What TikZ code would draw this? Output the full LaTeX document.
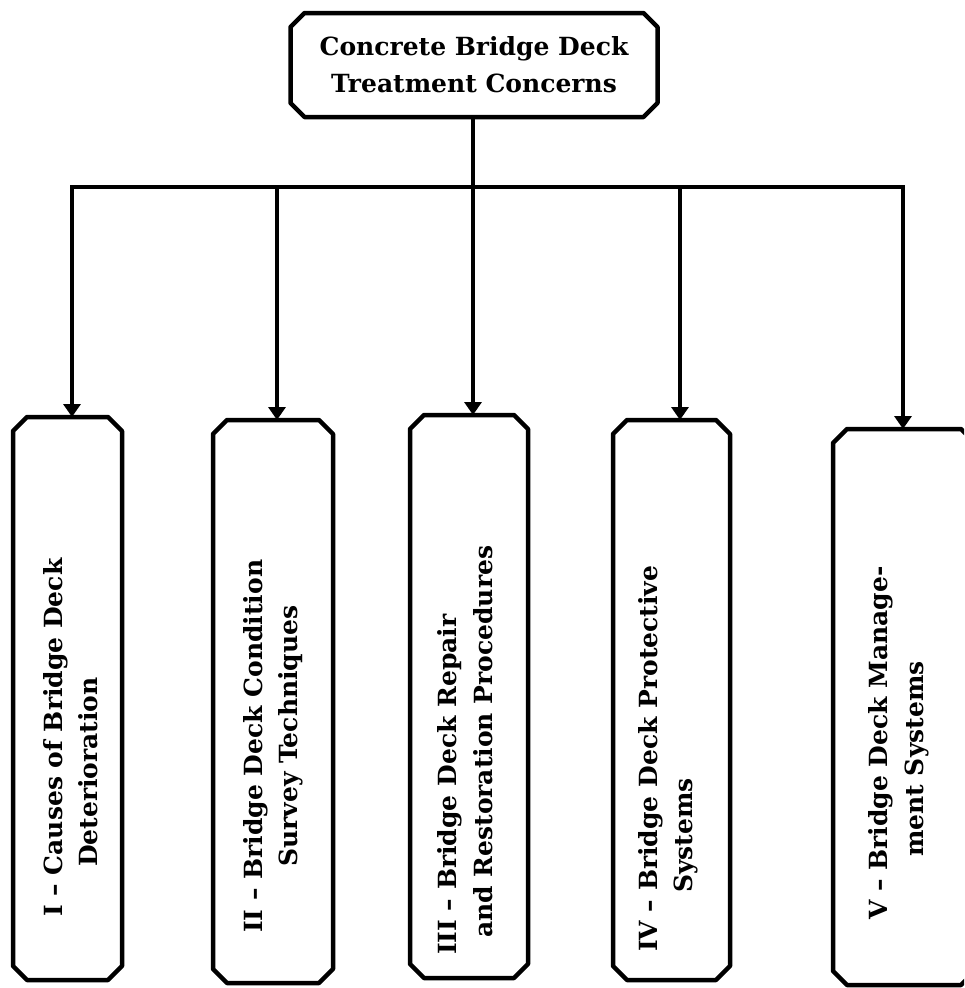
\documentclass[tikz,border=0pt]{standalone}
\usepackage{fontspec}
\setmainfont{DejaVu Serif}
\usetikzlibrary{arrows.meta}
% outline of a node with its four corners cut off
\newcommand\chambox[2][14pt]{%
  \draw[edge] ([xshift=#1]#2.north west) -- ([xshift=-#1]#2.north east)
    -- ([yshift=-#1]#2.north east) -- ([yshift=#1]#2.south east)
    -- ([xshift=-#1]#2.south east) -- ([xshift=#1]#2.south west)
    -- ([yshift=#1]#2.south west) -- ([yshift=-#1]#2.north west) -- cycle;}
\begin{document}
\begin{tikzpicture}[x=1pt,y=-1pt,
  box/.style={rectangle, inner sep=0pt, outer sep=0pt},
  edge/.style={line width=4.5pt, line join=round},
  conn/.style={line width=4.5pt},
  arr/.style={line width=4.5pt, -{Triangle[length=13pt,width=17pt]}},
  lbl/.style={rotate=90, anchor=base west, inner sep=0pt,
    font=\fontsize{25}{30}\selectfont\bfseries},
  ttl/.style={align=center, font=\fontsize{25}{37}\selectfont\bfseries}]
\clip (0,0) rectangle (964,988);
\fill[white] (0,0) rectangle (964,988);

% root box
\node[box, ttl, minimum width=367pt, minimum height=104pt] (top) at (474,65)
  {Concrete Bridge Deck\\Treatment Concerns};

% five branches
\node[box, minimum width=109pt, minimum height=563pt] (b1) at (67.5,698.5) {};
\node[box, minimum width=120pt, minimum height=563pt] (b2) at (273,701.5) {};
\node[box, minimum width=118pt, minimum height=563pt] (b3) at (469,696.5) {};
\node[box, minimum width=117pt, minimum height=560pt] (b4) at (671.5,700) {};
\node[box, minimum width=142pt, minimum height=556pt] (b5) at (904,707) {};
\foreach \n in {top,b1,b2,b3,b4,b5} {\chambox{\n}}

% distribution bus
\coordinate (root) at (473,187);
\coordinate (d1) at (72,187);
\coordinate (d2) at (277,187);
\coordinate (d3) at (473,187);
\coordinate (d4) at (680,187);
\coordinate (d5) at (903,187);
\draw[conn] (root |- top.south) -- (root);
\draw[conn, line cap=rect] (d1) -- (d5);
\draw[arr] (d1) -- (d1 |- b1.north);
\draw[arr] (d2) -- (d2 |- b2.north);
\draw[arr] (d3) -- (d3 |- b3.north);
\draw[arr] (d4) -- (d4 |- b4.north);
\draw[arr] (d5) -- (d5 |- b5.north);

% branch labels, read bottom to top
\node[lbl] (t1a) at (62,917) {I -- Causes of Bridge Deck};
\node[lbl] (t1b) at (97,867) {Deterioration};
\node[lbl] (t2a) at (262,933) {II -- Bridge Deck Condition};
\node[lbl] (t2b) at (297,867) {Survey Techniques};
\node[lbl] (t3a) at (456,955) {III -- Bridge Deck Repair};
\node[lbl] (t3b) at (492,938) {and Restoration Procedures};
\node[lbl] (t4a) at (657,952) {IV -- Bridge Deck Protective};
\node[lbl] (t4b) at (692,893) {Systems};
\node[lbl] (t5a) at (887,920) {V -- Bridge Deck Manage-};
\node[lbl] (t5b) at (923,857) {ment Systems};
\end{tikzpicture}
\end{document}
